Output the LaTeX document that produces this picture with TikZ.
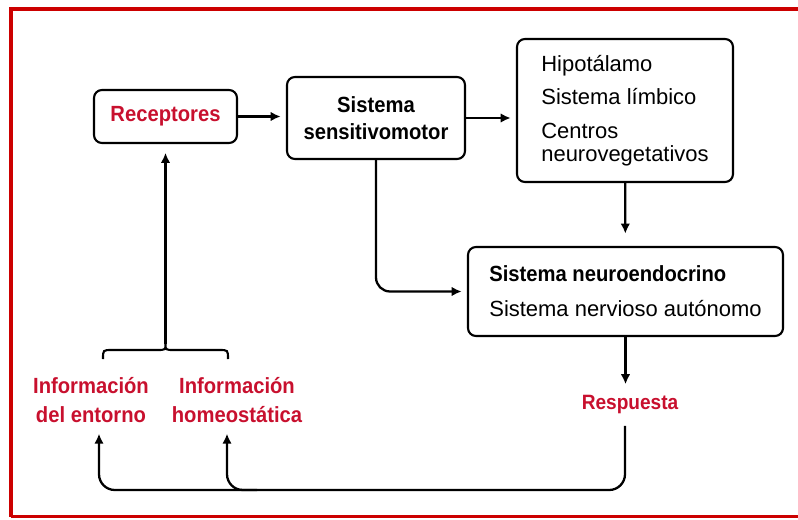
\documentclass[tikz,border=0pt]{standalone}
\usepackage{fontspec}
\setmainfont{Liberation Sans}[BoldFeatures={FakeStretch=0.92}]
\usetikzlibrary{arrows.meta}

\definecolor{rojo}{RGB}{200,16,46}
\definecolor{marco}{RGB}{204,0,0}

\tikzset{>={Latex[length=2mm,width=1.9mm]},
         box/.style={draw, line width=1.2pt, rounded corners=4.5pt, align=center,
                     font=\bfseries\fontsize{12.5}{15.5}\selectfont},
         lista/.style={box, align=left, font=\fontsize{12.5}{13}\selectfont},
         info/.style={text=rojo, align=center, font=\bfseries\fontsize{12.5}{16}\selectfont},
         flecha/.style={->, line width=1.3pt, shorten >=3pt}}

\begin{document}
\begin{tikzpicture}
    \useasboundingbox (0,0) rectangle (15.96,10.38);

    % marco
    \draw[marco, line width=2.3pt] (15.96,10.2) -- (0.22,10.2) -- (0.22,0.05);
    \draw[marco, line width=1.4pt] (0.22,0.05) -- (15.96,0.05);

    \node[box, info, draw=black, minimum width=2.86cm, minimum height=1.06cm] at ( 3.31, 8.05) (receptores) {Receptores};
    \node[box, minimum width=3.56cm, minimum height=1.64cm] at ( 7.52, 8.02) (sensitivomotor) {Sistema\\sensitivomotor};
    \node[lista, minimum width=4.32cm, minimum height=2.86cm] at (12.50, 8.17) (hipotalamo)
        {Hipotálamo\\[6pt]Sistema límbico\\[6pt]Centros\\neurovegetativos};
    \node[lista, minimum width=6.30cm, minimum height=1.78cm] at (12.51, 4.55) (neuroendocrino)
        {\textbf{Sistema neuroendocrino}\\[7pt]Sistema nervioso autónomo};

    \node[info, font=\bfseries\fontsize{11.8}{14}\selectfont] at (12.60, 2.28) (respuesta) {Respuesta};
    \node[info] at ( 1.82, 2.38) (entorno)      {Información\\del entorno};
    \node[info] at ( 4.74, 2.38) (homeostatica) {Información\\homeostática};

    \coordinate (llave)    at ( 3.31, 3.50);
    \coordinate (retorno)  at (12.50, 0.58);
    \coordinate (retornoE) at ( 1.98, 0.58);
    \coordinate (retornoH) at ( 4.54, 0.58);

    \draw[flecha] (receptores.east) -- (receptores.east -| sensitivomotor.west);
    \draw[flecha] (sensitivomotor.east) -- (sensitivomotor.east -| hipotalamo.west);
    \draw[flecha, shorten >=7pt] (hipotalamo) -- (neuroendocrino);
    \draw[flecha, rounded corners=8pt] (sensitivomotor.south) |- (neuroendocrino.west);
    \draw[flecha] (neuroendocrino.south) -- (neuroendocrino.south |- respuesta.north);

    \draw[flecha, rounded corners=9pt, shorten <=3pt]
           (retorno |- respuesta.south)
        -- (retorno)
        -- (retornoE)
        -- (retornoE |- entorno.south);
    \draw[flecha, rounded corners=9pt]
           ([xshift=0.6cm]retornoH)
        -- (retornoH)
        -- (retornoH |- homeostatica.south);

    % llave
    \draw[line width=1.2pt]
           (2.06,3.20) .. controls (2.06,3.38) .. (2.24,3.38)
        -- (3.13,3.38) .. controls (3.31,3.38) .. (llave)
                       .. controls (3.31,3.38) .. (3.49,3.38)
        -- (4.38,3.38) .. controls (4.56,3.38) .. (4.56,3.20);
    \draw[flecha, shorten >=5pt] (llave) -- (receptores.south);
\end{tikzpicture}
\end{document}
